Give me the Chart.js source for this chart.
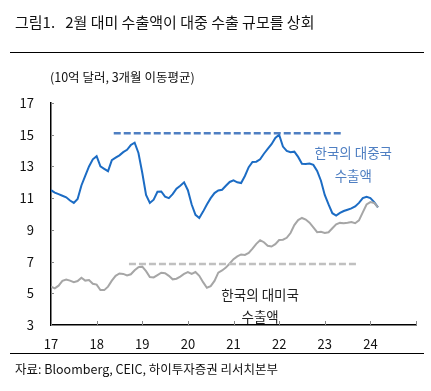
<!DOCTYPE html>
<html>
<head>
<meta charset="utf-8">
<script src="https://cdn.jsdelivr.net/npm/chart.js@4.4.1/dist/chart.umd.min.js"></script>
<style>
  html, body { margin: 0; padding: 0; background: #fff; }
  body { width: 431px; height: 391px; position: relative; overflow: hidden;
         font-family: "Noto Sans CJK KR", "Noto Sans", sans-serif; color: #111; }
  #wrap { position: absolute; left: 0; top: 0; width: 431px; height: 391px; }
  .title { position: absolute; left: 15px; top: 11px; font-size: 15px; white-space: pre; }
  .rule { position: absolute; left: 10px; width: 414px; height: 0; border-top: 1.5px solid #000; }
  .unit { position: absolute; left: 50px; top: 67px; font-size: 12.5px; }
  .source { position: absolute; left: 15px; top: 359px; font-size: 12.5px; }
</style>
</head>
<body>
<div id="wrap"><canvas id="chart" width="431" height="391"></canvas></div>
<div class="title">그림1.   2월 대미 수출액이 대중 수출 규모를 상회</div>
<div class="rule" style="top:52px"></div>
<div class="unit">(10억 달러, 3개월 이동평균)</div>
<div class="rule" style="top:353px"></div>
<div class="source">자료: Bloomberg, CEIC, 하이투자증권 리서치본부</div>
<script>
// month index 0 = Jan 2017
const yearLabels = ["17", "18", "19", "20", "21", "22", "23", "24"];

// 한국의 대중국 수출액 (3개월 이동평균, 10억 달러)
const chinaExports = [
  11.5, 11.35, 11.25, 11.15, 11.05, 10.85, 10.7, 10.95, 11.8, 12.4, 13.0, 13.45,
  13.65, 13.0, 12.85, 12.7, 13.4, 13.55, 13.7, 13.9, 14.05, 14.35, 14.5, 13.85,
  12.6, 11.2, 10.7, 10.9, 11.4, 11.42, 11.1, 11.0, 11.25, 11.6, 11.78, 12.0,
  11.5, 10.6, 9.95, 9.75, 10.15, 10.6, 11.0, 11.32, 11.48, 11.53, 11.78, 12.02,
  12.12, 12.0, 11.95, 12.4, 12.95, 13.28, 13.3, 13.45, 13.8, 14.1, 14.4, 14.8,
  15.0, 14.25, 13.98, 13.9, 13.93, 13.6, 13.17, 13.16, 13.18, 13.1, 12.72, 12.1,
  11.2, 10.6, 10.05, 9.9, 10.07, 10.19, 10.27, 10.35, 10.48, 10.7, 11.0, 11.08,
  11.0, 10.75, 10.42
];

// 한국의 대미국 수출액
const usExports = [
  5.42, 5.31, 5.48, 5.78, 5.87, 5.8, 5.7, 5.77, 5.98, 5.8, 5.84, 5.6,
  5.55, 5.2, 5.2, 5.42, 5.8, 6.1, 6.25, 6.22, 6.12, 6.2, 6.45, 6.65,
  6.68, 6.4, 6.03, 6.0, 6.15, 6.3, 6.27, 6.1, 5.88, 5.92, 6.05, 6.22,
  6.34, 6.22, 6.34, 6.1, 5.7, 5.35, 5.45, 5.78, 6.3, 6.44, 6.62, 6.88,
  7.15, 7.33, 7.45, 7.42, 7.55, 7.82, 8.12, 8.34, 8.22, 8.0, 7.95, 8.1,
  8.36, 8.38, 8.5, 8.8, 9.3, 9.62, 9.75, 9.65, 9.45, 9.15, 8.85, 8.88,
  8.8, 8.85, 9.1, 9.35, 9.44, 9.42, 9.45, 9.5, 9.42, 9.6, 10.1, 10.6,
  10.75, 10.7, 10.42
];

// reference (dashed) levels: [start month, end month], level
const chinaPeakRange = [16.5, 76.5];
const chinaPeakLevel = 15.1;
const usRefRange = [20.5, 80.5];
const usRefLevel = 6.85;

const toPoints = arr => arr.map((v, i) => ({ x: i, y: v }));
const flat = (range, level) => range.map(x => ({ x: x, y: level }));

const BLUE = "#1c6cc4";
const GRAY = "#a6a6a6";

// inward tick marks + series labels
const decor = {
  id: "decor",
  afterDraw(chart) {
    const ctx = chart.ctx;
    const xs = chart.scales.x, ys = chart.scales.y;
    ctx.save();
    ctx.strokeStyle = "#888";
    ctx.lineWidth = 1;
    ys.ticks.forEach(t => {
      const py = Math.round(ys.getPixelForValue(t.value)) + 0.5;
      ctx.beginPath();
      ctx.moveTo(xs.left, py);
      ctx.lineTo(xs.left + 3, py);
      ctx.stroke();
    });
    xs.ticks.forEach(t => {
      const px = Math.round(xs.getPixelForValue(t.value)) + 0.5;
      ctx.beginPath();
      ctx.moveTo(px, ys.bottom);
      ctx.lineTo(px, ys.bottom - 4);
      ctx.stroke();
    });

    ctx.font = '13.5px "Noto Sans CJK KR"';
    ctx.textAlign = "center";
    ctx.textBaseline = "middle";
    ctx.fillStyle = "#4f7fc2";
    ctx.fillText("한국의 대중국", xs.getPixelForValue(79.5), ys.getPixelForValue(13.85));
    ctx.fillText("수출액", xs.getPixelForValue(79.5), ys.getPixelForValue(12.4));
    ctx.fillStyle = "#222";
    ctx.fillText("한국의 대미국", xs.getPixelForValue(55), ys.getPixelForValue(4.9));
    ctx.fillText("수출액", xs.getPixelForValue(55), ys.getPixelForValue(3.5));
    ctx.restore();
  }
};

new Chart(document.getElementById("chart"), {
  type: "line",
  data: {
    datasets: [
      { data: flat(chinaPeakRange, chinaPeakLevel), borderColor: "#4f7fc2", borderWidth: 2.5,
        borderDash: [7, 3], pointRadius: 0 },
      { data: flat(usRefRange, usRefLevel), borderColor: "#c0c0c0", borderWidth: 2.5,
        borderDash: [7, 3], pointRadius: 0 },
      { data: toPoints(usExports), borderColor: GRAY, borderWidth: 2, pointRadius: 0, tension: 0 },
      { data: toPoints(chinaExports), borderColor: BLUE, borderWidth: 2, pointRadius: 0, tension: 0 }
    ]
  },
  options: {
    responsive: false,
    animation: false,
    layout: { padding: { top: 103, right: 15, bottom: 0, left: 0 } },
    plugins: { legend: { display: false }, tooltip: { enabled: false } },
    scales: {
      x: {
        type: "linear", min: 0, max: 96,
        grid: { display: false, drawTicks: false },
        border: { display: true, color: "#000", width: 1.5 },
        ticks: {
          stepSize: 12, padding: 11, color: "#111",
          font: { family: "Noto Sans CJK KR", size: 13 },
          callback: v => yearLabels[v / 12] || ""
        },
        afterFit: s => { s.height = 66; }
      },
      y: {
        min: 3, max: 17,
        grid: { display: false, drawTicks: false },
        border: { display: true, color: "#000", width: 1.5 },
        ticks: {
          stepSize: 2, padding: 17, color: "#111",
          font: { family: "Noto Sans CJK KR", size: 13 }
        },
        afterFit: s => { s.width = 51; }
      }
    }
  },
  plugins: [decor]
});
</script>
</body>
</html>
